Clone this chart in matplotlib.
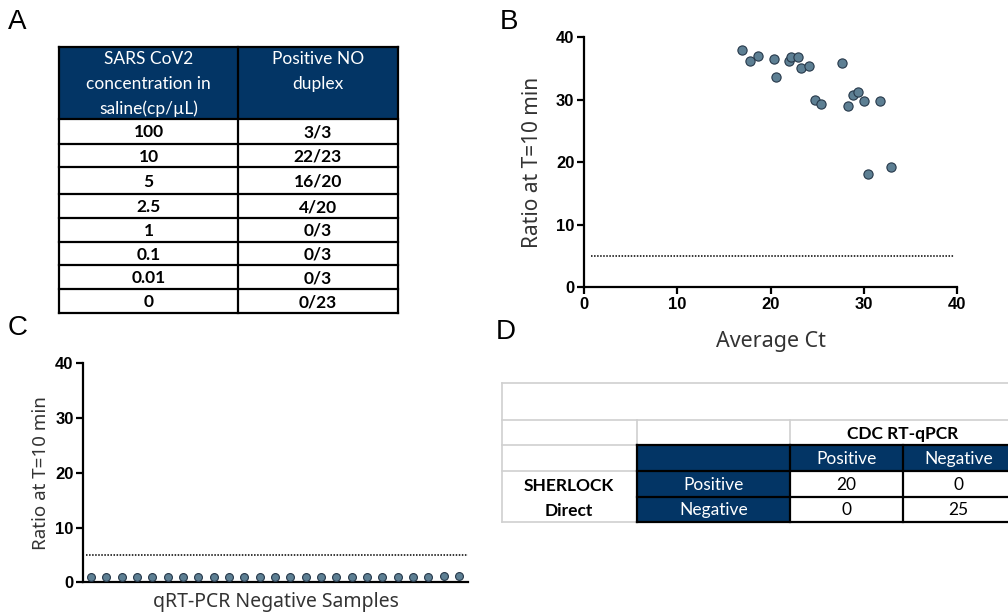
import matplotlib
matplotlib.use("Agg")
import matplotlib.pyplot as plt
from matplotlib.patches import Rectangle

# ---------------- data ----------------
a_header = ["SARS CoV2\nconcentration in\nsaline(cp/\u00b5L)", "Positive NO\nduplex"]
a_conc = ["100", "10", "5", "2.5", "1", "0.1", "0.01", "0"]
a_positive = ["3/3", "22/23", "16/20", "4/20", "0/3", "0/3", "0/3", "0/23"]

b_ct = [16.96, 17.82, 18.64, 20.36, 20.54, 22.0, 22.18, 22.93, 23.26, 24.15,
        24.79, 25.4, 27.62, 28.26, 28.84, 29.41, 30.05, 30.45, 31.74, 32.92]
b_ratio = [37.97, 36.26, 36.95, 36.52, 33.69, 36.26, 36.79, 36.9, 35.03, 35.4,
           29.95, 29.3, 35.94, 28.93, 30.7, 31.23, 29.79, 18.07, 29.73, 19.3]

c_ratio = [1.0, 1.0, 1.0, 1.0, 1.0, 1.0, 1.0, 1.0, 1.0, 1.0, 1.0, 1.0, 1.0,
           1.0, 1.0, 1.0, 1.0, 1.0, 1.0, 1.0, 1.0, 1.0, 1.0, 1.1, 1.1]
threshold = 5

d_col_title = "CDC RT-qPCR"
d_row_title = ["SHERLOCK", "Direct"]
d_labels = ["Positive", "Negative"]
d_counts = [[20, 0], [0, 25]]

xticks_b = [0, 10, 20, 30, 40]
yticks = [0, 10, 20, 30, 40]

# ---------------- style ----------------
NAVY = "#033565"
DOT = "#5d7f93"
DOT_EDGE = "#26384a"
TFONT = "Lato"
LFONT = "Liberation Sans"
AXFONT = "Noto Sans"
TFS = 12.5

W, H = 1008, 615
fig = plt.figure(figsize=(W / 100, H / 100), dpi=100)

bg = fig.add_axes([0, 0, 1, 1])
bg.set_xlim(0, W)
bg.set_ylim(H, 0)
bg.axis("off")

# panel letters
for lab, (x, y) in {"A": (8, 29), "B": (500, 29), "C": (8, 335), "D": (496, 339)}.items():
    bg.text(x, y, lab, fontsize=20, family=LFONT, va="baseline", ha="left")

# ---------------- panel A table ----------------
a_x = [59.3, 237.7, 398.3]
a_y = [47, 119, 143.7, 167.3, 194.3, 218.3, 241.7, 265.3, 289.3, 313.3]
bg.add_patch(Rectangle((a_x[0], a_y[0]), a_x[2] - a_x[0], a_y[1] - a_y[0],
                       facecolor=NAVY, edgecolor="none", zorder=1))
for xx in a_x:
    bg.plot([xx, xx], [a_y[0], a_y[-1]], color="black", lw=1.6, zorder=3,
            solid_capstyle="projecting")
for yy in a_y:
    bg.plot([a_x[0], a_x[2]], [yy, yy], color="black", lw=1.6, zorder=3,
            solid_capstyle="projecting")
hdr_lines = [a_header[0].split("\n"), a_header[1].split("\n")]
hdr_y = [59.5, 84, 108.3]
for col, lines in enumerate(hdr_lines):
    for li, txt in enumerate(lines):
        bg.text((a_x[col] + a_x[col + 1]) / 2, hdr_y[li], txt, color="white",
                fontsize=TFS, family=TFONT, ha="center", va="center", zorder=4)
for i, (c, p) in enumerate(zip(a_conc, a_positive)):
    yc = (a_y[i + 1] + a_y[i + 2]) / 2 + 1
    bg.text((a_x[0] + a_x[1]) / 2, yc, c, fontsize=TFS, family=TFONT,
            weight="bold", ha="center", va="center", zorder=4)
    bg.text((a_x[1] + a_x[2]) / 2, yc, p, fontsize=TFS, family=TFONT,
            weight="bold", ha="center", va="center", zorder=4)

# ---------------- panel D table ----------------
dx = [501.5, 636.7, 790, 902.5, 1015]
dy = [382.5, 420, 445, 470.7, 496.7, 521.7]
LG = "#d0d0d0"
bg.plot([dx[0], dx[0]], [dy[0], dy[5]], color=LG, lw=1.2, zorder=2)
bg.plot([dx[0], W], [dy[0], dy[0]], color=LG, lw=1.2, zorder=2)
bg.plot([dx[0], dx[1]], [dy[5], dy[5]], color=LG, lw=1.2, zorder=2)
for yy in [dy[1], dy[2], dy[3]]:
    bg.plot([dx[0], dx[1]], [yy, yy], color=LG, lw=1.2, zorder=2)
bg.plot([dx[1], W], [dy[1], dy[1]], color=LG, lw=1.2, zorder=2)
bg.plot([dx[1], dx[1]], [dy[1], dy[2]], color=LG, lw=1.2, zorder=2)
bg.plot([dx[2], dx[2]], [dy[1], dy[2]], color=LG, lw=1.2, zorder=2)
bg.add_patch(Rectangle((dx[1], dy[2]), dx[4] - dx[1], dy[3] - dy[2],
                       facecolor=NAVY, edgecolor="none", zorder=1))
bg.add_patch(Rectangle((dx[1], dy[3]), dx[2] - dx[1], dy[5] - dy[3],
                       facecolor=NAVY, edgecolor="none", zorder=1))
for yy in dy[2:]:
    bg.plot([dx[1], dx[4]], [yy, yy], color="black", lw=1.6, zorder=3,
            solid_capstyle="projecting")
for xx in dx[1:]:
    bg.plot([xx, xx], [dy[2], dy[5]], color="black", lw=1.6, zorder=3,
            solid_capstyle="projecting")
bg.text((dx[2] + dx[4]) / 2, (dy[1] + dy[2]) / 2 + 1, d_col_title, fontsize=TFS,
        family=TFONT, weight="bold", ha="center", va="center", zorder=4)
for j, lab in enumerate(d_labels):
    bg.text((dx[2 + j] + dx[3 + j]) / 2, (dy[2] + dy[3]) / 2 + 1, lab,
            color="white", fontsize=TFS, family=TFONT, ha="center", va="center", zorder=4)
    bg.text((dx[1] + dx[2]) / 2, (dy[3 + j] + dy[4 + j]) / 2 + 1, lab,
            color="white", fontsize=TFS, family=TFONT, ha="center", va="center", zorder=4)
    for k in range(2):
        bg.text((dx[2 + k] + dx[3 + k]) / 2, (dy[3 + j] + dy[4 + j]) / 2 + 1,
                str(d_counts[j][k]), fontsize=TFS, family=TFONT,
                ha="center", va="center", zorder=4)
    bg.text((dx[0] + dx[1]) / 2, (dy[3 + j] + dy[4 + j]) / 2 + 2, d_row_title[j],
            fontsize=TFS, family=TFONT, weight="bold", ha="center", va="center", zorder=4)


def style_axis(ax):
    for s in ["top", "right"]:
        ax.spines[s].set_visible(False)
    for s in ["left", "bottom"]:
        ax.spines[s].set_linewidth(1.6)
    ax.tick_params(direction="out", length=5, width=1.6, pad=2)


TICKFONT = dict(fontsize=12, fontweight="bold", family=LFONT)

# ---------------- panel B ----------------
axb = fig.add_axes([584 / W, (H - 287) / H, 373 / W, (287 - 37.3) / H])
axb.set_xlim(0, 40)
axb.set_ylim(0, 40)
axb.set_xticks(xticks_b, labels=[str(v) for v in xticks_b], **TICKFONT)
axb.set_yticks(yticks, labels=[str(v) for v in yticks], **TICKFONT)
axb.plot([0.8, 39.7], [threshold, threshold], color="black", lw=1.1, ls=(0, (1, 1)))
axb.scatter(b_ct, b_ratio, s=44, color=DOT, edgecolor=DOT_EDGE, linewidth=0.8,
            zorder=3, clip_on=False)
style_axis(axb)
axb.set_ylabel("Ratio at T=10 min", fontsize=15, family=AXFONT, color="#333333",
               labelpad=9)
axb.set_xlabel("Average Ct", fontsize=15.5, family=AXFONT, color="#333333", labelpad=14)

# ---------------- panel C ----------------
axc = fig.add_axes([83.3 / W, (H - 582.3) / H, (467.7 - 83.3) / W, (582.3 - 363.3) / H])
xs = list(range(1, len(c_ratio) + 1))
axc.set_xlim(0.5, 25.57)
axc.set_ylim(0, 40)
axc.set_yticks(yticks, labels=[str(v) for v in yticks], **TICKFONT)
axc.set_xticks([])
axc.plot([0.7, 25.57], [threshold, threshold], color="black", lw=1.1, ls=(0, (1, 1)))
axc.scatter(xs, c_ratio, s=32, color=DOT, edgecolor=DOT_EDGE, linewidth=0.8,
            zorder=3, clip_on=False)
style_axis(axc)
axc.set_ylabel("Ratio at T=10 min", fontsize=13.5, family=AXFONT, color="#333333",
               labelpad=4)
axc.set_xlabel("qRT-PCR Negative Samples", fontsize=14, family=AXFONT,
               color="#333333", labelpad=7)

fig.savefig("out.png", dpi=100)
